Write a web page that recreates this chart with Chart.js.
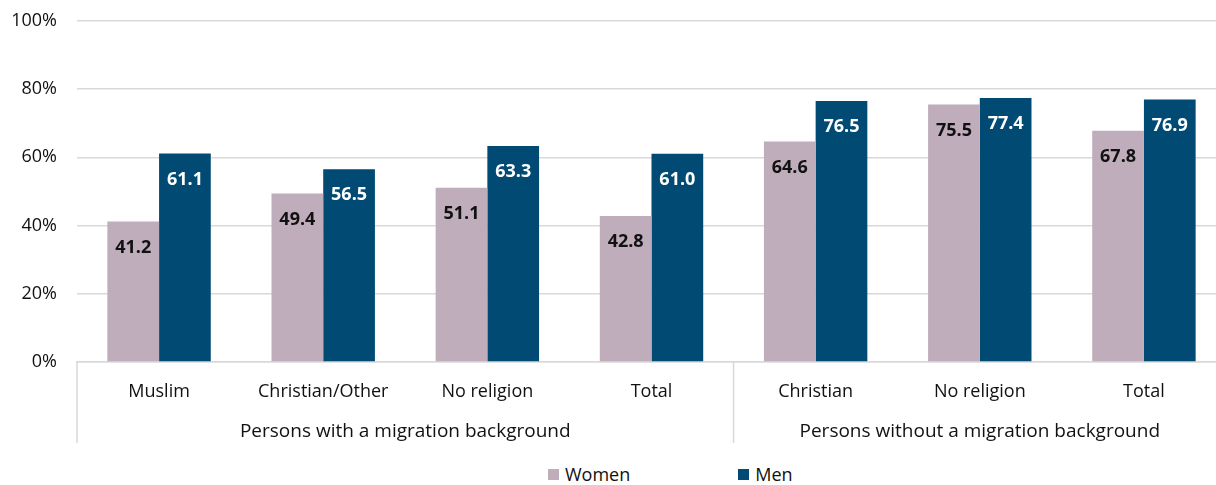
<!DOCTYPE html>
<html>
<head>
<meta charset="utf-8">
<script src="https://cdn.jsdelivr.net/npm/chart.js@4"></script>
<style>
  html, body { margin: 0; padding: 0; background: #fff; overflow: hidden; }
  #wrap { position: relative; width: 1226px; height: 465px; margin-top: -10px; }
  #legend { position: absolute; left: 548px; top: 462px; display: flex; gap: 108px;
            font-family: 'Open Sans', sans-serif; font-size: 18px; color: #111; }
  #legend span { display: inline-flex; align-items: center; }
  #legend i { display: inline-block; width: 11px; height: 11px; margin-right: 6px; }
</style>
</head>
<body>
<div id="wrap"><canvas id="chart" width="1226" height="465"></canvas></div>
<div id="legend"></div>
<script>
/* ── Data ── */
const categories = ['Muslim', 'Christian/Other', 'No religion', 'Total', 'Christian', 'No religion', 'Total'];
const groups = [
  { label: 'Persons with a migration background', from: 0, to: 3 },
  { label: 'Persons without a migration background', from: 4, to: 6 }
];
const women = [41.2, 49.4, 51.1, 42.8, 64.6, 75.5, 67.8];
const men   = [61.1, 56.5, 63.3, 61.0, 76.5, 77.4, 76.9];
const yTicks = [0, 20, 40, 60, 80, 100];

const seriesNames = ['Women', 'Men'];
const colors = ['#BFADBB', '#004A73'];
const labelColors = ['#111', '#fff'];
const FONT = "'Open Sans', sans-serif";

/* ── Plugin: value labels inside bars + group labels under axis ── */
const extras = {
  id: 'extras',
  afterDatasetsDraw(chart) {
    const ctx = chart.ctx;
    ctx.save();
    ctx.font = 'bold 18px ' + FONT;
    ctx.textAlign = 'center';
    ctx.textBaseline = 'middle';
    chart.data.datasets.forEach((ds, i) => {
      chart.getDatasetMeta(i).data.forEach((bar, j) => {
        ctx.fillStyle = labelColors[i];
        ctx.fillText(ds.data[j].toFixed(1), bar.x, bar.y + 26);
      });
    });
    ctx.restore();
  },
  afterDraw(chart) {
    const ctx = chart.ctx;
    const x = chart.scales.x;
    const half = (x.getPixelForValue(1) - x.getPixelForValue(0)) / 2;
    const top = chart.chartArea.bottom;
    ctx.save();
    ctx.strokeStyle = '#D9D9D9';
    ctx.lineWidth = 1.5;
    groups.forEach(g => {
      const left = x.getPixelForValue(g.from) - half;
      const right = x.getPixelForValue(g.to) + half;
      ctx.beginPath();
      ctx.moveTo(left, top);
      ctx.lineTo(left, top + 81);
      ctx.stroke();
      ctx.fillStyle = '#111';
      ctx.font = '19px ' + FONT;
      ctx.textAlign = 'center';
      ctx.textBaseline = 'middle';
      ctx.fillText(g.label, (left + right) / 2, top + 70);
    });
    ctx.restore();
  }
};

new Chart(document.getElementById('chart'), {
  type: 'bar',
  data: {
    labels: categories,
    datasets: [women, men].map((d, i) => ({
      label: seriesNames[i],
      data: d,
      backgroundColor: colors[i],
      borderWidth: 0,
      categoryPercentage: 0.63,
      barPercentage: 1
    }))
  },
  options: {
    responsive: false,
    animation: false,
    devicePixelRatio: 1,
    layout: { padding: { top: 9, right: 0, bottom: 0, left: 0 } },
    plugins: { legend: { display: false }, tooltip: { enabled: false } },
    scales: {
      y: {
        min: 0, max: 100,
        afterBuildTicks(s) { s.ticks = yTicks.map(v => ({ value: v })); },
        afterFit(s) { s.width = 77; },
        ticks: { callback: v => v + '%', padding: 20, color: '#111', font: { family: FONT, size: 18 } },
        grid: { color: '#D9D9D9', lineWidth: 1.5, drawTicks: false },
        border: { display: false }
      },
      x: {
        afterFit(s) { s.height = 93; },
        ticks: { color: '#111', padding: 11, font: { family: FONT, size: 18 } },
        grid: { display: false },
        border: { color: '#D9D9D9', width: 1.5 }
      }
    }
  },
  plugins: [extras]
});

/* ── Legend ── */
document.getElementById('legend').innerHTML = seriesNames.map((n, i) =>
  `<span><i style="background:${colors[i]}"></i>${n}</span>`).join('');
</script>
</body>
</html>
